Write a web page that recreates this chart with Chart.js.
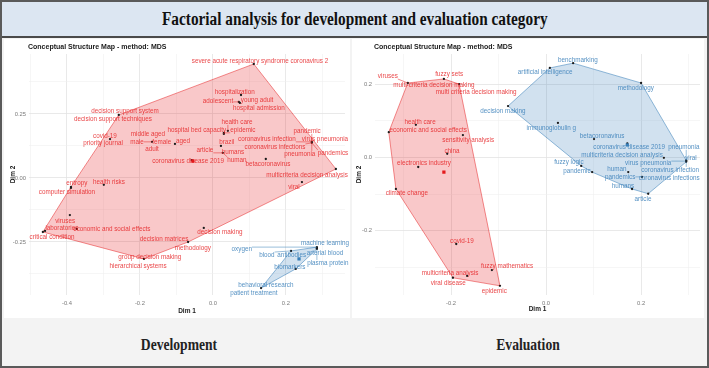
<!DOCTYPE html>
<html>
<head>
<meta charset="utf-8">
<script src="https://cdn.jsdelivr.net/npm/chart.js@4.4.0/dist/chart.umd.min.js"></script>
<style>
html,body{margin:0;padding:0;background:#fff;}
#frame{position:absolute;left:0;top:0;width:709px;height:368px;box-sizing:border-box;border:2px solid #5a5a5a;background:#f3f3f3;overflow:hidden;}
#titlebar{position:absolute;left:0;top:0;width:705px;height:34px;background:#dce6f2;border-bottom:2px solid #4a4a4a;text-align:center;}
#titlebar span{display:inline-block;font-family:'Liberation Serif','Times New Roman',serif;font-weight:bold;font-size:18px;line-height:34px;color:#111;transform:scaleX(0.85);white-space:nowrap;}
canvas{position:absolute;background:#fff;}
.cap{position:absolute;width:200px;text-align:center;font-family:'Liberation Serif','Times New Roman',serif;font-weight:bold;font-size:16px;line-height:20px;color:#222;transform:scaleX(0.85);}
</style>
</head>
<body>
<div id="frame">
  <div id="titlebar"><span>Factorial analysis for development and evaluation category</span></div>
  <canvas id="dev" width="346" height="279" style="left:2px;top:37px;width:346px;height:279px;"></canvas>
  <canvas id="eva" width="352" height="279" style="left:350px;top:37px;width:352px;height:279px;"></canvas>
  <div class="cap" style="left:77px;top:333px;">Development</div>
  <div class="cap" style="left:426px;top:333px;">Evaluation</div>
</div>
<script>
// ---------------- DATA: Development ----------------
const devRedTerms = ["severe acute respiratory syndrome coronavirus 2","hospitalization","adolescent","young adult","hospital admission","health care","epidemic","hospital bed capacity","aged","middle aged","male","female","adult","brazil","article","humans","human","coronavirus disease 2019","pandemic","virus pneumonia","coronavirus infection","coronavirus infections","pneumonia","pandemics","betacoronavirus","multicriteria decision analysis","viral","decision support system","decision support techniques","covid-19","priority journal","entropy","computer simulation","health risks","viruses","laboratories","economic and social effects","critical condition","decision making","decision matrices","methodology","group decision making","hierarchical systems"];
const devRedX = [0.112,0.077,0.071,0.071,0.074,0.041,0.030,0.030,-0.104,-0.167,-0.167,-0.167,-0.167,0.022,0.027,0.027,0.027,-0.058,0.271,0.271,0.271,0.271,0.271,0.271,0.145,0.337,0.244,-0.258,-0.258,-0.282,-0.282,-0.389,-0.389,-0.299,-0.392,-0.460,-0.373,-0.466,-0.025,-0.068,-0.068,-0.189,-0.189];
const devRedY = [0.445,0.324,0.297,0.297,0.293,0.184,0.176,0.172,0.133,0.141,0.141,0.141,0.141,0.125,0.098,0.098,0.098,0.070,0.141,0.141,0.141,0.137,0.137,0.137,0.074,0.035,-0.016,0.246,0.246,0.152,0.152,-0.035,-0.039,-0.027,-0.145,-0.207,-0.199,-0.211,-0.195,-0.250,-0.250,-0.316,-0.316];
const devRedLabelX = [0.129,0.060,0.014,0.121,0.126,0.066,0.082,-0.044,-0.082,-0.178,-0.208,-0.140,-0.167,0.038,-0.022,0.055,0.066,-0.068,0.258,0.307,0.148,0.170,0.238,0.329,0.151,0.258,0.222,-0.241,-0.274,-0.296,-0.301,-0.373,-0.400,-0.285,-0.405,-0.414,-0.277,-0.441,0.019,-0.134,-0.055,-0.173,-0.205];
const devRedLabelY = [0.457,0.336,0.301,0.305,0.273,0.219,0.188,0.188,0.145,0.172,0.141,0.141,0.113,0.141,0.109,0.102,0.070,0.066,0.184,0.152,0.152,0.121,0.094,0.098,0.055,0.012,-0.035,0.262,0.230,0.164,0.137,-0.020,-0.055,-0.016,-0.168,-0.195,-0.199,-0.230,-0.211,-0.238,-0.273,-0.309,-0.344];
const devRedCentroid = [-0.055, 0.066];

const devBlueTerms = ["machine learning","oxygen","arterial blood","blood","antibodies","plasma protein","biomarkers","behavioral research","patient treatment"];
const devBlueX = [0.285,0.285,0.285,0.214,0.214,0.285,0.227,0.132,0.132];
const devBlueY = [-0.273,-0.270,-0.275,-0.285,-0.285,-0.277,-0.355,-0.430,-0.430];
const devBlueLabelX = [0.307,0.079,0.307,0.148,0.216,0.315,0.211,0.145,0.112];
const devBlueLabelY = [-0.254,-0.277,-0.293,-0.301,-0.301,-0.332,-0.348,-0.418,-0.449];
const devBlueCentroid = [0.236, -0.316];

const devXGrid = [-0.5,-0.4,-0.3,-0.2,-0.1,0,0.1,0.2,0.3];
const devYGrid = [-0.375,-0.25,-0.125,0,0.125,0.25,0.375];
const devXTicks = [-0.4,-0.2,0,0.2];
const devXTickLabels = ["-0.4","-0.2","0.0","0.2"];
const devYTicks = [-0.25,0,0.25];
const devYTickLabels = ["-0.25","0.00","0.25"];

// ---------------- DATA: Evaluation ----------------
const evaRedTerms = ["viruses","fuzzy sets","multi-criteria decision making","multi criteria decision making","health care","economic and social effects","sensitivity analysis","china","electronics industry","climate change","covid-19","fuzzy mathematics","multicriteria analysis","viral disease","epidemic"];
const evaRedX = [-0.291,-0.215,-0.183,-0.183,-0.274,-0.331,-0.175,-0.208,-0.269,-0.316,-0.189,-0.114,-0.166,-0.196,-0.097];
const evaRedY = [0.203,0.214,0.200,0.200,0.089,0.069,0.061,0.010,-0.026,-0.086,-0.236,-0.307,-0.323,-0.328,-0.350];
const evaRedLabelX = [-0.333,-0.204,-0.236,-0.147,-0.265,-0.248,-0.164,-0.198,-0.257,-0.293,-0.177,-0.082,-0.202,-0.206,-0.109];
const evaRedLabelY = [0.222,0.228,0.198,0.178,0.097,0.075,0.048,0.018,-0.015,-0.097,-0.228,-0.298,-0.315,-0.342,-0.366];
const evaRedCentroid = [-0.215, -0.040];

const evaBlueTerms = ["benchmarking","artificial intelligence","methodology","decision making","immunoglobulin g","betacoronavirus","coronavirus disease 2019","pneumonia","multicriteria decision analysis","virus pneumonia","viral","fuzzy logic","pandemic","human","coronavirus infection","pandemics","coronavirus infections","humans","article"];
const evaBlueX = [0.057,0.008,0.200,-0.080,0.025,0.101,0.171,0.295,0.248,0.295,0.295,0.074,0.097,0.173,0.295,0.202,0.202,0.181,0.215];
const evaBlueY = [0.257,0.244,0.203,0.140,0.094,0.050,0.038,-0.008,-0.001,-0.010,-0.010,-0.023,-0.040,-0.040,-0.012,-0.053,-0.053,-0.086,-0.099];
const evaBlueLabelX = [0.067,-0.002,0.189,-0.091,0.011,0.118,0.175,0.290,0.160,0.215,0.305,0.048,0.065,0.149,0.261,0.156,0.259,0.162,0.204];
const evaBlueLabelY = [0.266,0.233,0.189,0.127,0.080,0.059,0.029,0.029,0.007,-0.015,-0.001,-0.012,-0.037,-0.031,-0.034,-0.053,-0.056,-0.078,-0.113];
const evaBlueCentroid = [0.171, 0.034];

const evaXGrid = [-0.3,-0.2,-0.1,0,0.1,0.2,0.3];
const evaYGrid = [-0.3,-0.2,-0.1,0,0.1,0.2];
const evaXTicks = [-0.2,0,0.2];
const evaXTickLabels = ["-0.2","0.0","0.2"];
const evaYTicks = [-0.2,0,0.2];
const evaYTickLabels = ["-0.2","0.0","0.2"];

// ---------------- STYLE ----------------
const SANS = "'Liberation Sans', Arial, Helvetica, sans-serif";
const RED = {text:'rgba(228,26,28,0.82)', fill:'rgba(228,26,28,0.24)', line:'rgba(228,26,28,0.55)', dot:'rgb(228,26,28)'};
const BLUE = {text:'rgba(55,126,184,0.85)', fill:'rgba(55,126,184,0.23)', line:'rgba(55,126,184,0.6)', dot:'rgb(55,126,184)'};

function uniquePoints(xs, ys){
  const seen = new Set(), out = [];
  xs.forEach((x,i)=>{ const k = x+','+ys[i]; if(!seen.has(k)){ seen.add(k); out.push({x:x, y:ys[i]}); } });
  return out;
}
function convexHull(xs, ys){
  const p = uniquePoints(xs, ys).sort((a,b)=>a.x-b.x || a.y-b.y);
  const cross = (o,a,b)=>(a.x-o.x)*(b.y-o.y)-(a.y-o.y)*(b.x-o.x);
  const lower = [];
  for (const q of p){ while(lower.length>=2 && cross(lower[lower.length-2], lower[lower.length-1], q) <= 0) lower.pop(); lower.push(q); }
  const upper = [];
  for (let i=p.length-1;i>=0;i--){ const q=p[i]; while(upper.length>=2 && cross(upper[upper.length-2], upper[upper.length-1], q) <= 0) upper.pop(); upper.push(q); }
  upper.pop(); lower.pop();
  const h = lower.concat(upper); h.push({x:h[0].x, y:h[0].y});
  return h;
}
const near = (a,b)=>Math.abs(a-b)<1e-9;
function tickLabel(vals, labs, v){ const i = vals.findIndex(t=>near(t,v)); return i>=0 ? labs[i] : ''; }

function buildChart(id, spec){
  const datasets = [];
  spec.clusters.forEach(c=>{
    datasets.push({data: convexHull(c.x, c.y), showLine:true, fill:'shape', backgroundColor:c.style.fill, borderColor:c.style.line, borderWidth:0.9, pointRadius:0, tension:0, order:3});
    datasets.push({data: uniquePoints(c.x, c.y), showLine:false, pointRadius:1.15, backgroundColor:'#1a1a1a', borderWidth:0, order:1});
    datasets.push({data: [{x:c.centroid[0], y:c.centroid[1]}], showLine:false, pointStyle:'rect', pointRadius:2.3, backgroundColor:c.style.dot, borderWidth:0, order:0});
  });
  const plugin = {
    id: 'termLabels',
    afterDatasetsDraw(chart){
      const ctx = chart.ctx, xs = chart.scales.x, ys = chart.scales.y;
      ctx.save();
      ctx.font = '6.3px ' + SANS;
      ctx.textAlign = 'center'; ctx.textBaseline = 'middle';
      spec.clusters.forEach(c=>{
        // leader segments
        ctx.strokeStyle = c.style.text; ctx.lineWidth = 0.6;
        c.terms.forEach((t,i)=>{
          const lx = xs.getPixelForValue(c.lx[i]), ly = ys.getPixelForValue(c.ly[i]);
          const px = xs.getPixelForValue(c.x[i]), py = ys.getPixelForValue(c.y[i]);
          const w = ctx.measureText(t).width, h = 6;
          const nx = Math.max(lx-w/2, Math.min(px, lx+w/2));
          const ny = Math.max(ly-h/2, Math.min(py, ly+h/2));
          if (Math.hypot(px-nx, py-ny) > 5){
            ctx.beginPath(); ctx.moveTo(nx, ny); ctx.lineTo(px, py); ctx.stroke();
          }
        });
      });
      spec.clusters.forEach(c=>{
        ctx.fillStyle = c.style.text;
        c.terms.forEach((t,i)=>{
          ctx.fillText(t, xs.getPixelForValue(c.lx[i]), ys.getPixelForValue(c.ly[i]));
        });
      });
      ctx.restore();
    },
    afterDraw(chart){
      const ctx = chart.ctx, a = chart.chartArea;
      ctx.save();
      ctx.fillStyle = '#1a1a1a';
      ctx.font = 'bold 7px ' + SANS;
      ctx.textAlign = 'left'; ctx.textBaseline = 'middle';
      ctx.fillText('Conceptual Structure Map - method: MDS', a.left - 1, 8);
      ctx.font = 'bold 6.5px ' + SANS;
      ctx.textAlign = 'center';
      ctx.fillText('Dim 1', (a.left + a.right)/2, spec.dim1Y);
      ctx.translate(spec.dim2X, (a.top + a.bottom)/2);
      ctx.rotate(-Math.PI/2);
      ctx.fillText('Dim 2', 0, 0);
      ctx.restore();
    }
  };
  const gridOpt = (ticks)=>({
    drawTicks:false,
    color: c => (c.tick && ticks.some(t=>near(t,c.tick.value))) ? '#e3e3e3' : '#efefef',
    lineWidth: c => (c.tick && ticks.some(t=>near(t,c.tick.value))) ? 0.8 : 0.55
  });
  return new Chart(document.getElementById(id), {
    type:'scatter',
    data:{datasets},
    plugins:[plugin],
    options:{
      responsive:false, animation:false, devicePixelRatio:1, events:[],
      layout:{padding:{left:0, top:15, right:spec.padRight, bottom:0}},
      plugins:{legend:{display:false}, tooltip:{enabled:false}},
      scales:{
        x:{type:'linear', min:spec.xMin, max:spec.xMax,
           afterBuildTicks: s=>{ s.ticks = spec.xGrid.map(v=>({value:v})); },
           afterFit: s=>{ s.height = 23; },
           grid: gridOpt(spec.xTicks), border:{display:false},
           ticks:{autoSkip:false, maxRotation:0, padding:5, color:'#7a7a7a', font:{family:SANS, size:5.8},
                  callback: v=>tickLabel(spec.xTicks, spec.xTickLabels, v)}},
        y:{type:'linear', min:spec.yMin, max:spec.yMax,
           afterBuildTicks: s=>{ s.ticks = spec.yGrid.map(v=>({value:v})); },
           afterFit: s=>{ s.width = spec.yAxisWidth; },
           grid: gridOpt(spec.yTicks), border:{display:false},
           ticks:{autoSkip:false, padding:3, color:'#7a7a7a', font:{family:SANS, size:5.8},
                  callback: v=>tickLabel(spec.yTicks, spec.yTickLabels, v)}}
      }
    }
  });
}

buildChart('dev', {
  xMin:-0.504, xMax:0.362, yMin:-0.457, yMax:0.484,
  xGrid:devXGrid, yGrid:devYGrid, xTicks:devXTicks, xTickLabels:devXTickLabels, yTicks:devYTicks, yTickLabels:devYTickLabels,
  yAxisWidth:25, padRight:5, dim1Y:272, dim2X:9,
  clusters:[
    {terms:devRedTerms, x:devRedX, y:devRedY, lx:devRedLabelX, ly:devRedLabelY, centroid:devRedCentroid, style:RED},
    {terms:devBlueTerms, x:devBlueX, y:devBlueY, lx:devBlueLabelX, ly:devBlueLabelY, centroid:devBlueCentroid, style:BLUE}
  ]
});
buildChart('eva', {
  xMin:-0.36, xMax:0.324, yMin:-0.375, yMax:0.282,
  xGrid:evaXGrid, yGrid:evaYGrid, xTicks:evaXTicks, xTickLabels:evaXTickLabels, yTicks:evaYTicks, yTickLabels:evaYTickLabels,
  yAxisWidth:23, padRight:4, dim1Y:270, dim2X:7,
  clusters:[
    {terms:evaRedTerms, x:evaRedX, y:evaRedY, lx:evaRedLabelX, ly:evaRedLabelY, centroid:evaRedCentroid, style:RED},
    {terms:evaBlueTerms, x:evaBlueX, y:evaBlueY, lx:evaBlueLabelX, ly:evaBlueLabelY, centroid:evaBlueCentroid, style:BLUE}
  ]
});
</script>
</body>
</html>
